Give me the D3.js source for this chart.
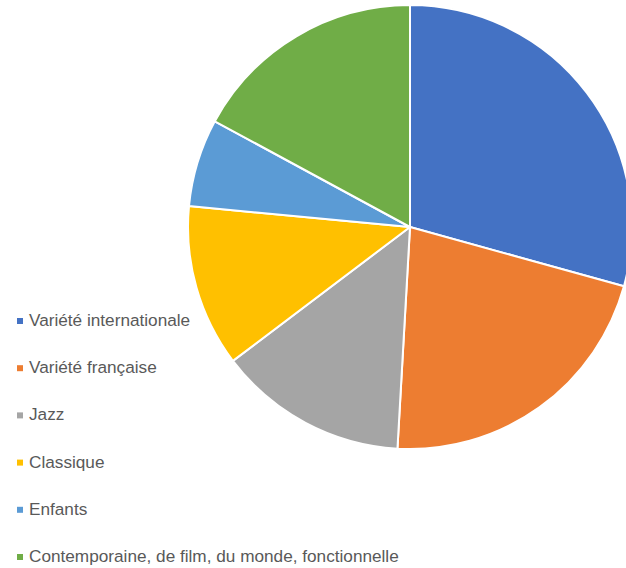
<!DOCTYPE html>
<html>
<head>
<meta charset="utf-8">
<script src="https://cdn.jsdelivr.net/npm/d3@7"></script>
<style>
  body { margin: 0; background: #fff; }
  svg { display: block; }
</style>
</head>
<body>
<svg id="chart" width="626" height="568"></svg>
<script>
// Data (share of each genre, in %)
var categories = [
  "Variété internationale",
  "Variété française",
  "Jazz",
  "Classique",
  "Enfants",
  "Contemporaine, de film, du monde, fonctionnelle"
];
var values = [29.3, 21.6, 13.8, 11.8, 6.4, 17.1];
var colors = ["#4472C4", "#ED7D31", "#A5A5A5", "#FFC000", "#5B9BD5", "#70AD47"];

var svg = d3.select("#chart"),
  cx = 410,
  cy = 227,
  radius = 222;

var pie = d3.pie().sort(null).value(d => d.value);
var arc = d3.arc().innerRadius(0).outerRadius(radius);

var data = categories.map((c, i) => ({ name: c, value: values[i], color: colors[i] }));

svg.append("g")
  .attr("transform", "translate(" + cx + "," + cy + ")")
  .selectAll("path")
  .data(pie(data))
  .join("path")
  .attr("d", arc)
  .attr("fill", d => d.data.color)
  .attr("stroke", "#fff")
  .attr("stroke-width", 2)
  .attr("stroke-linejoin", "round");

// Legend
var legendY = d3.scalePoint().domain(categories).range([326, 562]);

var legend = svg.append("g")
  .selectAll("g")
  .data(data)
  .join("g")
  .attr("transform", d => "translate(0," + legendY(d.name) + ")");

legend.append("rect")
  .attr("x", 17)
  .attr("y", -8)
  .attr("width", 6)
  .attr("height", 6)
  .attr("fill", d => d.color);

legend.append("text")
  .attr("x", 29)
  .attr("y", 0)
  .attr("font-family", "Liberation Sans, Arial, sans-serif")
  .attr("font-size", 17.2)
  .attr("fill", "#595959")
  .text(d => d.name);
</script>
</body>
</html>
